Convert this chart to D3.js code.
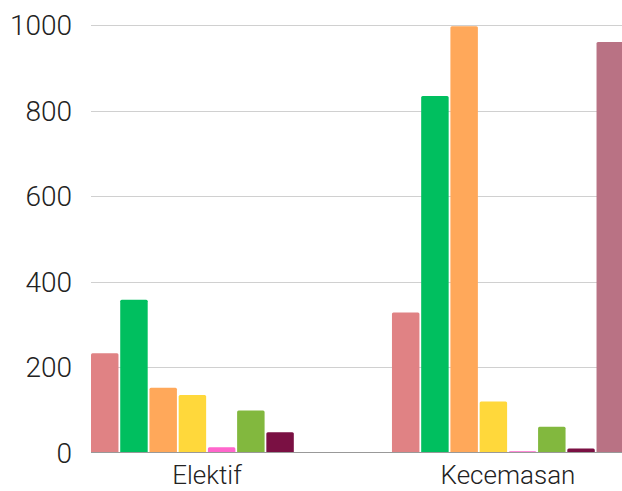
<!DOCTYPE html>
<html>
<head>
<meta charset="utf-8">
<script src="https://cdn.jsdelivr.net/npm/d3@7"></script>
<style>
  body { margin: 0; background: #fff; }
  text { font-family: Roboto, "Noto Sans", sans-serif; font-weight: 300; fill: #222; }
</style>
</head>
<body>
<div id="d3-container"></div>
<script>
/**
 * CONSTANTS AND DATA
 * */
const width = 622,
    height = 491,
    margin = { top: 25, bottom: 38, left: 91, right: -2 };

const groups = ["Elektif", "Kecemasan"];
const seriesNames = ["s1", "s2", "s3", "s4", "s5", "s6", "s7", "s8"];
const elektifValues = [231, 356, 150, 133, 11, 97, 46, 0];
const kecemasanValues = [326, 832, 995, 118, 2, 59, 8, 958];
const colors = ["#e08284", "#00bf5f", "#ffa85a", "#ffd83b", "#ff66cc", "#82b83e", "#7a1043", "#b97284"];
const yTicks = [0, 200, 400, 600, 800, 1000];

const valuesByGroup = [elektifValues, kecemasanValues];

const svg = d3.select("#d3-container")
    .append("svg")
    .attr("width", width)
    .attr("height", height);

const plotBottom = height - margin.bottom;

const y = d3.scaleLinear()
    .domain([0, 1000])
    .range([plotBottom, margin.top]);

// group band: bands of 232px, step 301px
const x0 = d3.scaleBand()
    .domain(groups)
    .range([margin.left, 624])
    .paddingInner(0.229)
    .paddingOuter(0);

const x1 = d3.scaleBand()
    .domain(seriesNames)
    .range([0, x0.bandwidth()])
    .paddingInner(0.06);

// gridlines
svg.append("g")
    .selectAll("line")
    .data(yTicks.filter(d => d > 0))
    .join("line")
    .attr("x1", margin.left)
    .attr("x2", width)
    .attr("y1", d => Math.round(y(d)) + 0.5)
    .attr("y2", d => Math.round(y(d)) + 0.5)
    .attr("stroke", "#d0d0d0")
    .attr("stroke-width", 1);

// y tick labels
svg.append("g")
    .selectAll("text")
    .data(yTicks)
    .join("text")
    .attr("x", 72)
    .attr("y", d => y(d))
    .attr("dy", "0.36em")
    .attr("text-anchor", "end")
    .attr("font-size", 28)
    .text(d => d);

// bars
const groupG = svg.append("g")
    .selectAll("g")
    .data(groups)
    .join("g")
    .attr("transform", d => `translate(${x0(d)},0)`);

groupG.selectAll("rect")
    .data((g, i) => valuesByGroup[i].map((v, j) => ({ key: seriesNames[j], value: v, color: colors[j] })))
    .join("rect")
    .attr("x", d => x1(d.key))
    .attr("width", x1.bandwidth())
    .attr("y", d => y(d.value) - (d.value > 0 ? 1 : 0))
    .attr("height", d => d.value > 0 ? plotBottom - y(d.value) + 1 : 0)
    .attr("rx", 1.5)
    .attr("fill", d => d.color);

// baseline
svg.append("line")
    .attr("x1", margin.left)
    .attr("x2", width)
    .attr("y1", Math.round(y(0)) - 0.5)
    .attr("y2", Math.round(y(0)) - 0.5)
    .attr("stroke", "#999")
    .attr("stroke-width", 1);

// x labels
svg.append("g")
    .selectAll("text")
    .data(groups)
    .join("text")
    .attr("x", d => x0(d) + x0.bandwidth() / 2)
    .attr("y", 484)
    .attr("text-anchor", "middle")
    .attr("font-size", 26)
    .text(d => d);
</script>
</body>
</html>
